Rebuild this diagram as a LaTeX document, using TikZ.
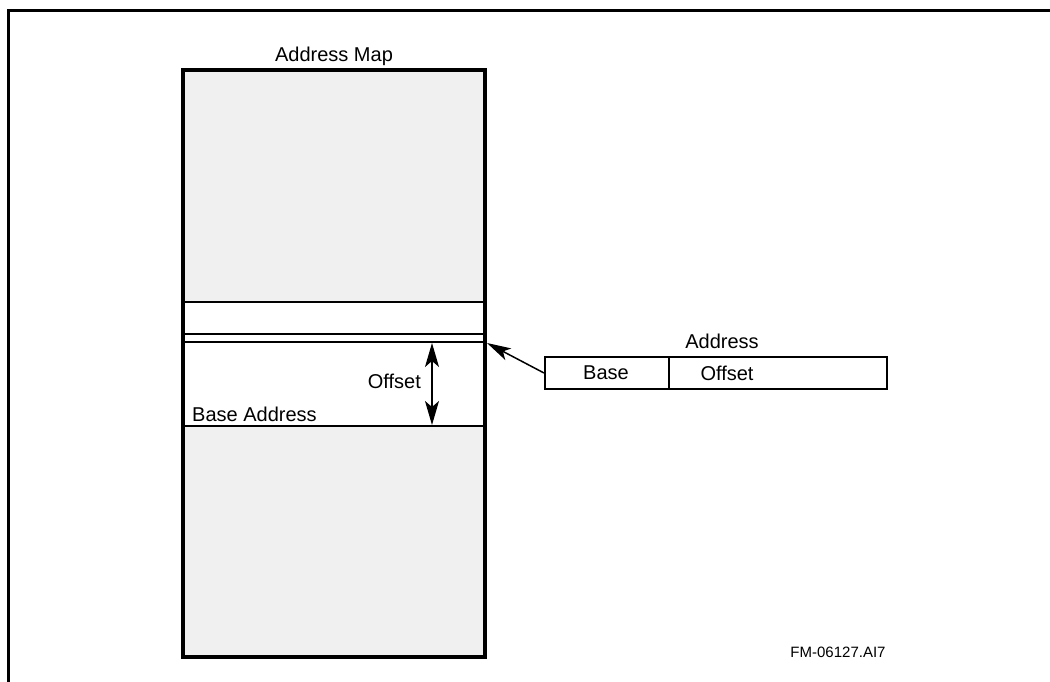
\documentclass[tikz,border=0pt]{standalone}
\usepackage{fontspec}
\setmainfont{Liberation Sans}
\usetikzlibrary{arrows.meta}
\definecolor{mapgray}{HTML}{F0F0F0}
\tikzset{
  lbl/.style={font=\fontsize{20}{23}\selectfont, inner sep=0pt},
  small/.style={font=\fontsize{15}{17}\selectfont, inner sep=0pt},
  thin line/.style={line width=1.6pt},
  cell/.style={draw, line width=2pt, minimum height=32pt, inner sep=0pt},
  bigtip/.style={-{Stealth[length=24pt,width=13pt,inset=6pt]}},
  dbltip/.style={{Stealth[length=24pt,width=14pt,inset=6pt]}-{Stealth[length=24pt,width=14pt,inset=6pt]}},
}
\begin{document}
\begin{tikzpicture}[x=1pt,y=-1pt]
\useasboundingbox (0,0) rectangle (1050,682);
% frame
\draw[line width=3pt] (8,682) -- (8,11) -- (1050,11);
% address map
\fill[mapgray] (183,70) rectangle (485,657);
\fill[white] (183,302) rectangle (485,426);
\draw[thin line] (183,302) -- (485,302);
\draw[thin line] (183,334) -- (485,334);
\draw[thin line] (183,342) -- (485,342);
\draw[thin line] (183,426) -- (485,426);
\draw[line width=3.5pt] (183,70) rectangle (485,657);
\coordinate (top) at (432,343);
\coordinate (bot) at (432,425);
\coordinate (mapr) at (487,343);
\draw[line width=1.3pt, dbltip] (top) -- (bot);
\node[lbl] (maptitle) at (334,56) {Address Map};
\node[lbl, anchor=east] (offlbl) at (421,381) {Offset};
\node[lbl, anchor=west] (baselbl) at (192,414) {Base Address};
% address register
\node[cell, minimum width=124pt] (base) at (607,373) {};
\node[cell, minimum width=218pt] (off) at (778,373) {};
\node[lbl] at (606,373) {Base};
\node[lbl] at (727,373) {Offset};
\node[lbl] (addr) at (722,341) {Address};
\draw[line width=1.5pt, bigtip] (base.west) -- (mapr);
\node[small] (fm) at (838,652) {FM-06127.AI7};
\end{tikzpicture}
\end{document}
